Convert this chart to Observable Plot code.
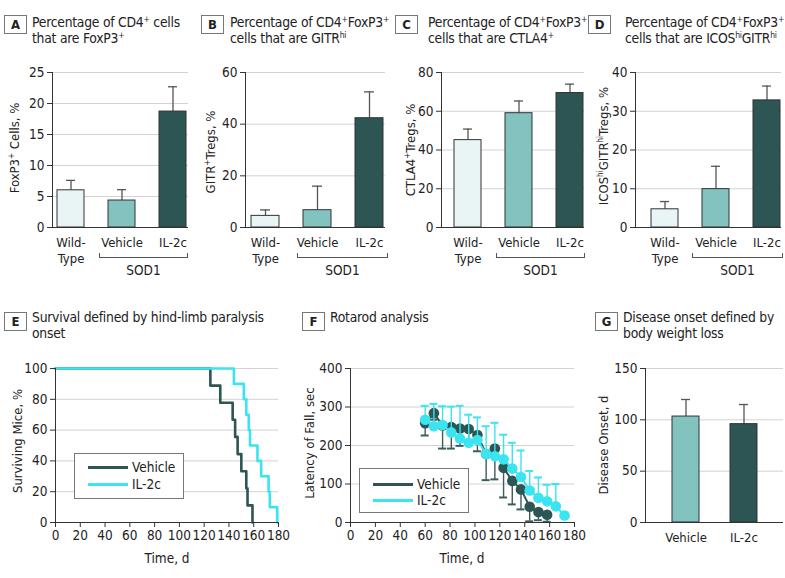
<!DOCTYPE html>
<html><head><meta charset="utf-8">
<script src="https://cdn.jsdelivr.net/npm/d3@7"></script>
<script src="https://cdn.jsdelivr.net/npm/@observablehq/plot@0.6"></script>
<style>
body{margin:0;background:#fff;}
#root{position:relative;width:785px;height:578px;overflow:hidden;font-family:"Liberation Sans Narrow","DejaVu Sans Condensed","Liberation Sans",sans-serif;color:#222;}
.box{position:absolute;box-sizing:border-box;border:1px solid #777;width:23px;height:19px;font-weight:bold;font-size:13px;text-align:center;line-height:17px;background:#fff;}
.title{position:absolute;font-size:13.8px;letter-spacing:-0.25px;line-height:16px;white-space:nowrap;}
.ylab{position:absolute;font-size:13px;white-space:nowrap;transform:translate(-50%,-50%) rotate(-90deg);}
.br{position:absolute;box-sizing:border-box;border:1px solid #555;border-top:none;height:5px;}
.txt{position:absolute;font-size:13.5px;white-space:nowrap;transform:translateX(-50%);}
.legend{position:absolute;box-sizing:border-box;border:1px solid #777;background:#fff;font-size:13.5px;}
.legend .sw{position:absolute;height:3px;width:40px;}
.legend .lb{position:absolute;line-height:16px;}
sup{font-size:0.62em;line-height:0;vertical-align:0.6em;}
svg{position:absolute;overflow:visible;}
</style></head>
<body><div id="root"></div>
<script>
// ---------- data ----------
const groups = ["Wild-Type", "Vehicle", "IL-2c"];
const groupColors = ["#e9f4f4", "#82c2bf", "#2c5553"];
const foxp3Mean  = [6.0, 4.35, 18.7];
const foxp3Upper = [7.6, 6.1, 22.7];
const gitrMean   = [4.5, 6.7, 42.3];
const gitrUpper  = [6.8, 16.0, 52.5];
const ctla4Mean  = [45.1, 59.0, 69.4];
const ctla4Upper = [50.8, 65.3, 74.0];
const icosMean   = [4.7, 9.9, 32.8];
const icosUpper  = [6.7, 15.8, 36.5];

const vehicleSurvTime = [0, 125, 133, 143, 145, 147, 150, 154, 155, 159];
const vehicleSurvPct  = [100, 88.9, 77.8, 66.7, 55.6, 44.4, 33.3, 22.2, 11.1, 0];
const il2cSurvTime = [0, 144, 152, 154, 156, 157, 163, 166, 172, 173, 179];
const il2cSurvPct  = [100, 90, 80, 70, 60, 50, 40, 30, 20, 10, 0];

const rotaTime = [60, 67, 74, 81, 88, 95, 102, 109, 116, 123, 130, 137, 144, 151, 158, 165, 172];
const vehicleLatency = [258, 284, 252, 248, 244, 243, 227, 178, 192, 142, 108, 86, 41, 27, 20];
const vehicleLower   = [226, 267, 192, 192, 199, 205, 185, 110, 112, 65, 47, 34, 3, 6, 2];
const il2cLatency = [267, 250, 253, 234, 218, 207, 214, 178, 172, 164, 140, 118, 83, 64, 55, 42, 18];
const il2cUpper   = [303, 308, 302, 301, 303, 280, 273, 250, 259, 228, 207, 187, 134, 117, 98, 100, null];

const onsetGroups = ["Vehicle", "IL-2c"];
const onsetColors = ["#82c2bf", "#2c5553"];
const onsetMean  = [103.2, 95.8];
const onsetUpper = [119.8, 114.9];

const DARK = "#2c5553", CYAN = "#3ae4f0", GRID = "#d2d2d2", AXIS = "#333";
const FONT = '"Liberation Sans Narrow","DejaVu Sans Condensed","Liberation Sans",sans-serif';
const root = document.getElementById("root");

function place(el, left, top) { el.style.left = left + "px"; el.style.top = top + "px"; root.appendChild(el); }
function html(cls, inner, left, top, extra) {
  const d = document.createElement("div"); d.className = cls; d.innerHTML = inner;
  if (extra) Object.assign(d.style, extra);
  place(d, left, top); return d;
}
const baseStyle = {fontFamily: FONT, fontSize: "13px", color: "#222", background: "transparent", overflow: "visible"};
const NUMFONT = 13.5;

function barPanel(o) {
  const data = o.cats.map((g, i) => ({g, m: o.means[i], u: o.uppers[i], c: o.colors[i]}));
  const p = Plot.plot({
    width: o.width, height: o.height,
    marginLeft: o.mL, marginRight: o.mR, marginTop: o.mT, marginBottom: o.mB,
    style: baseStyle,
    x: {domain: o.cats, range: o.range, paddingInner: o.pad, paddingOuter: 0, axis: null},
    y: {domain: [0, o.yMax], axis: null},
    color: {type: "identity"},
    marks: [
      Plot.gridY(o.yTicks, {stroke: GRID, strokeOpacity: 1}),
      Plot.ruleX(data, {x: "g", y1: "m", y2: "u", stroke: "#555", strokeWidth: 1.3}),
      Plot.tickY(data, {x: "g", y: "u", stroke: "#555", strokeWidth: 1.3, insetLeft: 9, insetRight: 9}),
      Plot.barY(data, {x: "g", y: "m", fill: "c", stroke: "#333", strokeWidth: 1}),
      Plot.ruleY([0], {stroke: AXIS}),
      Plot.axisY(o.yTicks, {tickSize: 5, tickPadding: 3, label: null, stroke: AXIS, fontSize: NUMFONT}),
      Plot.axisX({tickSize: 0, tickPadding: 7, lineHeight: 1.3, label: null,
                  tickFormat: d => d === "Wild-Type" ? "Wild-\nType" : d}),
      Plot.frame({anchor: "left", stroke: AXIS})
    ]
  });
  place(p, o.left, o.top);
}

// ---------- top row ----------
const topCfg = {top: 50, height: 235, mT: 22, mB: 58, cats: groups, colors: groupColors};
barPanel({...topCfg, left: 0,   width: 195, mL: 52, mR: 7, range: [56, 187], pad: 0.48, yMax: 25, yTicks: [0,5,10,15,20,25], means: foxp3Mean, uppers: foxp3Upper});
barPanel({...topCfg, left: 195, width: 195, mL: 50, mR: 5, range: [55, 189], pad: 0.47, yMax: 60, yTicks: [0,20,40,60], means: gitrMean, uppers: gitrUpper});
barPanel({...topCfg, left: 390, width: 195, mL: 51, mR: 1, range: [63, 193], pad: 0.476, yMax: 80, yTicks: [0,20,40,60,80], means: ctla4Mean, uppers: ctla4Upper});
barPanel({...topCfg, left: 585, width: 200, mL: 50, mR: 4, range: [65, 195], pad: 0.476, yMax: 40, yTicks: [0,10,20,30,40], means: icosMean, uppers: icosUpper});

// titles top row
html("box", "A", 4, 15); html("title", "Percentage of CD4<sup>+</sup> cells<br>that are FoxP3<sup>+</sup>", 32, 14);
html("box", "B", 201, 15); html("title", "Percentage of CD4<sup>+</sup>FoxP3<sup>+</sup><br>cells that are GITR<sup>hi</sup>", 230, 14);
html("box", "C", 395, 15); html("title", "Percentage of CD4<sup>+</sup>FoxP3<sup>+</sup><br>cells that are CTLA4<sup>+</sup>", 428, 14);
html("box", "D", 588, 15); html("title", "Percentage of CD4<sup>+</sup>FoxP3<sup>+</sup><br>cells that are ICOS<sup>hi</sup>GITR<sup>hi</sup>", 625, 14);

// y labels top row
html("ylab", "FoxP3<sup>+</sup> Cells, %", 14, 148);
html("ylab", "GITR<sup>+</sup>Tregs, %", 210, 152);
html("ylab", "CTLA4<sup>+</sup>Tregs, %", 410, 150);
html("ylab", "ICOS<sup>hi</sup>GITR<sup>hi</sup>Tregs, %", 603, 146);

// SOD1 brackets
[[99, 89], [297, 91], [496, 89], [692, 91]].forEach(([x, w]) => {
  html("br", "", x, 253, {width: w + "px"});
  html("txt", "SOD1", x + w / 2, 262);
});

// ---------- E: survival ----------
const vehSurv = vehicleSurvTime.map((t, i) => ({t, s: vehicleSurvPct[i]}));
const ilSurv = il2cSurvTime.map((t, i) => ({t, s: il2cSurvPct[i]}));
const xTicks = d3.range(0, 181, 20);
const pE = Plot.plot({
  width: 290, height: 228, marginLeft: 55, marginRight: 12, marginTop: 18, marginBottom: 56,
  style: baseStyle,
  x: {domain: [0, 180], axis: null}, y: {domain: [0, 100], axis: null},
  marks: [
    Plot.gridY([20, 40, 60, 80, 100], {stroke: GRID, strokeOpacity: 1}),
    Plot.line(vehSurv, {x: "t", y: "s", curve: "step-after", stroke: DARK, strokeWidth: 2.6}),
    Plot.line(ilSurv, {x: "t", y: "s", curve: "step-after", stroke: CYAN, strokeWidth: 2.6}),
    Plot.axisY([0, 20, 40, 60, 80, 100], {tickSize: 5, tickPadding: 3, label: null, stroke: AXIS, fontSize: NUMFONT}),
    Plot.axisX(xTicks, {tickSize: 5, tickPadding: 3, label: null, stroke: AXIS, fontSize: NUMFONT}),
    Plot.frame({anchor: "left", stroke: AXIS}),
    Plot.frame({anchor: "bottom", stroke: AXIS})
  ]
});
place(pE, 0, 350);
html("box", "E", 4, 312); html("title", "Survival defined by hind-limb paralysis<br>onset", 32, 309);
html("ylab", "Surviving Mice, %", 17, 441);
html("txt", "Time, d", 167, 550);

// ---------- F: rotarod ----------
const vehRota = vehicleLatency.map((v, i) => ({t: rotaTime[i], v, lo: vehicleLower[i]}));
const ilRota = il2cLatency.map((v, i) => ({t: rotaTime[i], v, hi: il2cUpper[i]}));
const ilErr = ilRota.filter(d => d.hi != null);
const pF = Plot.plot({
  width: 290, height: 228, marginLeft: 60, marginRight: 6, marginTop: 18, marginBottom: 56,
  style: baseStyle,
  x: {domain: [0, 180], axis: null}, y: {domain: [0, 400], axis: null},
  marks: [
    Plot.gridY([100, 200, 300, 400], {stroke: GRID, strokeOpacity: 1}),
    Plot.ruleX(vehRota, {x: "t", y1: "v", y2: "lo", stroke: "#3b5e5c", strokeWidth: 1.4}),
    Plot.ruleY(vehRota, {y: "lo", x1: d => d.t - 3.2, x2: d => d.t + 3.2, stroke: "#3b5e5c", strokeWidth: 2}),
    Plot.line(vehRota, {x: "t", y: "v", stroke: DARK, strokeWidth: 2}),
    Plot.dot(vehRota, {x: "t", y: "v", r: 5.3, fill: DARK}),
    Plot.ruleX(ilErr, {x: "t", y1: "v", y2: "hi", stroke: CYAN, strokeWidth: 1.4}),
    Plot.ruleY(ilErr, {y: "hi", x1: d => d.t - 3.2, x2: d => d.t + 3.2, stroke: CYAN, strokeWidth: 2}),
    Plot.line(ilRota, {x: "t", y: "v", stroke: CYAN, strokeWidth: 2}),
    Plot.dot(ilRota, {x: "t", y: "v", r: 5.3, fill: CYAN}),
    Plot.axisY([0, 100, 200, 300, 400], {tickSize: 5, tickPadding: 3, label: null, stroke: AXIS, fontSize: NUMFONT}),
    Plot.axisX(xTicks, {tickSize: 5, tickPadding: 3, label: null, stroke: AXIS, fontSize: NUMFONT}),
    Plot.frame({anchor: "left", stroke: AXIS}),
    Plot.frame({anchor: "bottom", stroke: AXIS})
  ]
});
place(pF, 290, 350);
html("box", "F", 302, 312); html("title", "Rotarod analysis", 330, 309);
html("ylab", "Latency of Fall, sec", 309, 443);
html("txt", "Time, d", 462, 550);

// ---------- G: disease onset ----------
barPanel({top: 350, height: 228, mT: 18, mB: 56, cats: onsetGroups, colors: onsetColors,
  left: 580, width: 205, mL: 65, mR: 2, range: [91, 177], pad: 0.542, yMax: 150, yTicks: [0, 50, 100, 150],
  means: onsetMean, uppers: onsetUpper});
html("box", "G", 595, 312); html("title", "Disease onset defined by<br>body weight loss", 623, 309);
html("ylab", "Disease Onset, d", 603, 445);

// ---------- legends ----------
function legend(left, top, w, h, rows) {
  const d = document.createElement("div"); d.className = "legend";
  d.style.width = w + "px"; d.style.height = h + "px";
  rows.forEach(([label, color, y]) => {
    const s = document.createElement("div"); s.className = "sw";
    Object.assign(s.style, {left: "13px", top: (y - 1.5) + "px", background: color});
    const l = document.createElement("div"); l.className = "lb"; l.textContent = label;
    Object.assign(l.style, {left: "57px", top: (y - 8.5) + "px"});
    d.appendChild(s); d.appendChild(l);
  });
  place(d, left, top);
}
legend(74, 453, 110, 46, [["Vehicle", DARK, 13], ["IL-2c", CYAN, 30]]);
legend(359, 468, 110, 45, [["Vehicle", DARK, 15], ["IL-2c", CYAN, 31]]);
</script></body></html>
